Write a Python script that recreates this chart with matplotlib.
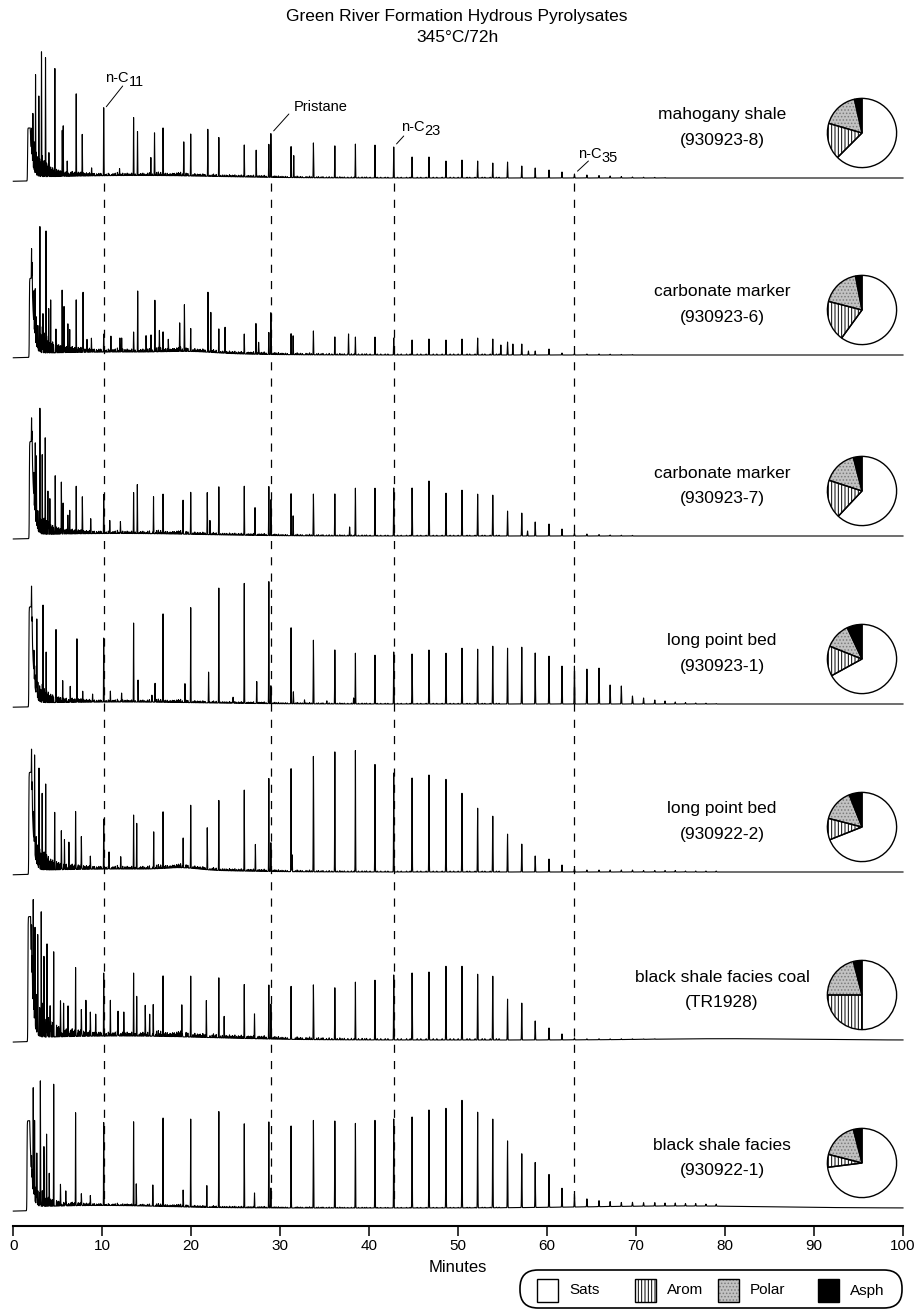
"""Green River Formation hydrous pyrolysates: stacked GC traces with bulk-composition pies."""
import matplotlib

matplotlib.use("Agg")
import matplotlib.pyplot as plt
import numpy as np
from matplotlib.patches import FancyBboxPatch, Rectangle

plt.rcParams["font.family"] = ["Liberation Sans", "DejaVu Sans"]
plt.rcParams["hatch.linewidth"] = 0.7

W, H = 914, 1309
X0, X1 = 13.3, 903.0  # pixel columns of 0 and 100 min

# retention times of n-C11 ... n-C48 (min)
ALKANE_T = np.array([10.16, 13.52, 16.83, 19.94, 23.10, 25.96, 28.72, 31.22, 33.73, 36.14,
                     38.45, 40.65, 42.76, 44.82, 46.72, 48.63, 50.43, 52.19, 53.89, 55.55,
                     57.15, 58.66, 60.21, 61.67, 63.07, 64.47, 65.83, 67.08, 68.34, 69.59,
                     70.84, 72.10, 73.25, 74.40, 75.55, 76.70, 77.85, 79.00])
PRISTANE_T = 28.95
MARKER_T = [ALKANE_T[0], PRISTANE_T, ALKANE_T[12], ALKANE_T[24]]

SAMPLES = ["mahogany shale", "carbonate marker", "carbonate marker", "long point bed",
           "long point bed", "black shale facies coal", "black shale facies"]
SAMPLE_IDS = ["(930923-8)", "(930923-6)", "(930923-7)", "(930923-1)",
              "(930922-2)", "(TR1928)", "(930922-1)"]

# n-alkane peak heights (px above baseline), n-C11 .. n-C48
ALK_1 = [68, 58, 48, 42, 39, 32, 33, 31, 35, 32, 34, 33, 31, 21, 21, 17, 18, 17, 15, 16,
         12, 10, 8, 6, 4, 3, 2.5, 2, 1.5, 1, 0.8, 0.6, 0.5, 0, 0, 0, 0, 0]
ALK_2 = [18, 20, 20, 23, 24, 20, 22, 21, 24, 18, 18, 18, 17, 15, 16, 15, 16, 17, 16, 13,
         11, 4, 6, 2, 1.5, 1, 1, 0.8, 0.6, 0.5, 0, 0, 0, 0, 0, 0, 0, 0]
ALK_3 = [39, 41, 40, 42, 48, 49, 49, 42, 42, 42, 48, 48, 48, 48, 55, 43, 46, 42, 41, 25,
         23, 14, 12, 7, 3, 2, 1.5, 1, 0.8, 0.6, 0, 0, 0, 0, 0, 0, 0, 0]
ALK_4 = [64, 79, 89, 95, 115, 120, 122, 76, 64, 54, 51, 49, 52, 50, 54, 51, 56, 55, 58, 56,
         57, 51, 48, 38, 38, 35, 36, 19, 18, 8, 6, 4, 3, 2, 1.5, 1, 0.8, 0.5]
ALK_5 = [50, 54, 57, 63, 70, 81, 93, 103, 116, 120, 122, 108, 99, 94, 97, 93, 79, 64, 56, 38,
         28, 16, 13, 7, 3, 2, 2, 2, 2, 2, 1.5, 1.5, 1.5, 1.5, 1, 1, 1, 1]
ALK_6 = [63, 63, 61, 61, 60, 54, 54, 53, 55, 52, 58, 60, 65, 67, 68, 74, 74, 66, 64, 41,
         37, 19, 12, 6, 2, 1, 1, 0.8, 0.8, 0.6, 0.5, 0.5, 0, 0, 0, 0, 0, 0]
ALK_7 = [83, 84, 89, 88, 96, 84, 86, 82, 88, 87, 85, 88, 89, 91, 98, 100, 108, 96, 89, 67,
         54, 45, 33, 19, 13, 8, 6, 5, 4, 4, 3.5, 3.5, 3, 3, 2.5, 2.5, 2, 2]

# other resolved peaks (min, px)
MINOR_1 = [(2.2, 51), (2.5, 99), (2.87, 81), (3.17, 126), (3.62, 119), (4.0, 24), (4.67, 109),
           (5.5, 46), (5.61, 51), (6.06, 14), (7.07, 83), (7.75, 42), (8.8, 8), (11.94, 7),
           (13.96, 44), (15.46, 18), (15.87, 43), (19.16, 34), (21.86, 47), (27.3, 27),
           (28.95, 44), (31.52, 22)]
MINOR_2 = [(2.47, 51), (2.99, 123), (3.33, 37), (3.68, 122), (3.98, 44), (4.2, 41), (4.79, 24),
           (5.49, 63), (5.7, 46), (6.13, 29), (6.34, 21), (7.07, 53), (7.84, 60), (8.28, 12),
           (8.78, 14), (10.97, 16), (11.98, 14), (12.18, 14), (13.98, 61), (14.92, 16),
           (15.48, 17), (15.91, 52), (16.42, 21), (17.42, 12), (18.7, 27), (19.23, 47),
           (21.88, 60), (22.2, 40), (23.8, 26), (27.27, 31), (27.57, 12), (28.95, 42),
           (31.45, 19), (37.68, 21), (54.8, 10), (56.15, 11), (57.9, 4)]
MINOR_3 = [(2.47, 75), (2.6, 59), (2.99, 123), (3.25, 62), (3.59, 97), (3.89, 42), (4.11, 29),
           (4.71, 59), (5.4, 52), (5.6, 31), (6.13, 19), (6.34, 22), (7.07, 48), (7.76, 37),
           (8.7, 13), (10.84, 13), (12.04, 12), (13.94, 49), (15.76, 37), (19.08, 34),
           (21.8, 42), (22.1, 13), (27.17, 28), (28.95, 36), (31.45, 20), (37.8, 9), (57.8, 5)]
MINOR_4 = [(2.64, 77), (3.34, 93), (3.69, 51), (4.8, 73), (5.55, 22), (6.4, 16), (7.15, 64),
           (7.8, 11), (8.91, 8), (10.91, 11), (12.17, 9), (14.02, 22), (15.58, 7), (15.93, 19),
           (19.29, 19), (21.95, 31), (24.7, 6), (27.36, 22), (28.95, 18), (31.48, 12),
           (32.73, 4), (35.24, 3), (38.25, 6)]
MINOR_5 = [(2.39, 77), (2.89, 101), (3.24, 66), (3.64, 86), (4.65, 58), (5.4, 39), (5.75, 30),
           (6.25, 27), (7.0, 58), (7.65, 33), (8.66, 13), (10.76, 17), (12.07, 12), (13.87, 46),
           (15.78, 37), (19.09, 30), (21.8, 42), (27.21, 27), (28.95, 29), (31.33, 17)]
MINOR_6 = [(2.24, 107), (2.44, 97), (2.74, 86), (3.14, 125), (3.44, 69), (3.79, 94), (4.14, 31),
           (4.54, 81), (5.3, 32), (5.65, 27), (6.15, 31), (7.0, 69), (7.65, 27), (8.16, 36),
           (8.66, 24), (9.26, 22), (10.91, 36), (11.77, 25), (12.42, 24), (13.87, 40),
           (14.83, 31), (15.33, 21), (15.73, 32), (18.94, 32), (21.7, 37), (23.7, 19),
           (27.11, 25), (28.95, 35)]
MINOR_7 = [(2.24, 105), (2.39, 67), (2.64, 51), (3.04, 125), (3.44, 55), (3.74, 62), (4.04, 33),
           (4.54, 120), (5.3, 20), (5.9, 15), (7.0, 93), (7.65, 12), (8.66, 10), (13.82, 22),
           (15.68, 21), (19.09, 17), (21.75, 22), (27.11, 15), (28.95, 20)]

# solvent front: start (min), plateau height (px)
SOLVENT = [(1.6, 49), (1.8, 75), (1.8, 93), (1.75, 96), (1.74, 98), (1.64, 121), (1.54, 86)]
# unresolved humps: centre (min), width (min), height (px)
HUMPS = [[(14, 9, 2.5)], [(12, 9, 3), (20, 2.5, 1.5)], [(12, 9, 2.5)], [(12, 9, 2)],
         [(12, 9, 3), (19, 1.8, 2)], [(12, 10, 4), (80, 8, 1.3)], [(10, 7, 2.5), (75, 10, 2)]]
GRASS_SCALE = [0.8, 1.0, 0.8, 0.7, 0.9, 1.3, 0.6]
# small unresolved peaks common to all traces (min, px)
GRASS = [(2.05, 30), (2.12, 22), (2.32, 35), (2.40, 25), (2.58, 28), (2.68, 20), (2.76, 24),
         (2.96, 22), (3.08, 18), (3.26, 26), (3.36, 16), (3.46, 20), (3.55, 14), (3.74, 17),
         (3.86, 12), (3.94, 15), (4.10, 10), (4.20, 12), (4.30, 9), (4.42, 11), (4.52, 8),
         (4.86, 9), (4.98, 7), (5.10, 8), (5.22, 6), (5.32, 7), (5.66, 6), (5.84, 5), (5.96, 6),
         (6.22, 4), (6.48, 5), (6.62, 6), (6.80, 4), (6.92, 5), (7.30, 5), (7.45, 4), (7.60, 5),
         (7.90, 4), (8.05, 3), (8.22, 4), (8.40, 3), (8.56, 4), (8.95, 3), (9.12, 3), (9.36, 2.5),
         (9.62, 3), (9.82, 3), (10.45, 2), (10.68, 3), (11.20, 2.5), (11.46, 3), (11.70, 4),
         (12.30, 3), (12.55, 2.5), (12.80, 3), (13.10, 2), (13.30, 3), (14.30, 2.5), (14.56, 3),
         (14.76, 2), (15.10, 3), (15.30, 3.5), (16.10, 4), (16.30, 4.5), (16.56, 4), (17.10, 3),
         (17.30, 3), (17.62, 2.5), (17.90, 3), (18.10, 3), (18.36, 3.5), (18.56, 4), (18.80, 4.5),
         (19.42, 3.5), (19.62, 3), (20.40, 3), (20.70, 2.5), (21.00, 2.5), (21.30, 3), (21.56, 2),
         (22.50, 3), (22.80, 2.5), (23.50, 2), (23.92, 2), (24.30, 2.5), (24.62, 2), (24.90, 2.5),
         (25.30, 2), (25.62, 2.5), (26.40, 2), (26.70, 2), (27.00, 2.5), (27.62, 2), (27.90, 2),
         (28.20, 2.5), (29.40, 2), (29.80, 2), (30.20, 1.5), (30.60, 1.5), (31.90, 2), (32.30, 1.5),
         (32.90, 1.5), (33.30, 2), (34.30, 1.5), (34.80, 1.5), (35.50, 1.5), (36.70, 1.5),
         (37.20, 1.2), (38.00, 1.2), (39.20, 1.2), (39.70, 1.2), (41.30, 1), (42.10, 1),
         (43.60, 1), (44.20, 1), (45.80, 1), (47.60, 1), (49.50, 1), (51.30, 1), (53.00, 1),
         (54.60, 1),
         (5.45, 3), (5.78, 2.5), (6.05, 2), (6.35, 2.5), (6.72, 2), (7.22, 2.5), (7.38, 2),
         (7.70, 2), (8.30, 2), (8.70, 2.5), (9.00, 2), (9.50, 1.5), (9.90, 2), (10.35, 1.5),
         (10.80, 2), (11.05, 1.5), (11.35, 2), (11.85, 1.5), (12.10, 2), (12.65, 1.5), (12.95, 2),
         (13.20, 1.5), (13.70, 2), (14.15, 1.5), (14.45, 2), (14.95, 1.5), (15.65, 2), (16.00, 1.5),
         (16.45, 2), (16.70, 1.5), (17.00, 2), (17.45, 1.5), (17.75, 2), (18.00, 2.5), (18.25, 2),
         (18.45, 2.5), (18.68, 3), (19.00, 2.5), (19.55, 2), (20.20, 2), (20.55, 1.5), (20.85, 2),
         (21.15, 1.5), (21.45, 2), (22.10, 1.5), (22.35, 2), (22.65, 1.5), (23.30, 1.5), (23.70, 2),
         (24.10, 1.5), (24.45, 1.5), (24.75, 1.5), (25.10, 1.5), (25.45, 1.5), (25.80, 1.5),
         (26.25, 1.5), (26.55, 1.5), (26.85, 1.5), (27.45, 1.5), (27.75, 1.5), (28.05, 1.5),
         (28.40, 1.5), (29.20, 1.5), (29.60, 1.5), (30.00, 1.2), (30.40, 1.2), (30.80, 1.2),
         (31.70, 1.2), (32.10, 1.2), (32.50, 1.2), (33.10, 1.2), (33.50, 1.2), (34.10, 1.2),
         (34.60, 1.2), (35.20, 1), (35.80, 1), (36.40, 1), (36.95, 1), (37.60, 1), (38.30, 1),
         (38.80, 1), (39.50, 1), (40.10, 1), (40.90, 1), (41.80, 1), (43.20, 1), (44.60, 1),
         (45.40, 1), (46.40, 1), (47.20, 1), (48.20, 1), (49.10, 1), (50.00, 1), (51.00, 1),
         (51.90, 1), (52.70, 1), (53.60, 1), (54.30, 1)]

# bulk composition (%)
SATS = [62.5, 60, 62, 67, 69, 50, 73]
AROM = [17, 19, 18, 14, 10, 25, 6]
POLAR = [17, 18, 16, 12, 15, 21, 17]
ASPH = [3.5, 3, 4, 7, 6, 4, 4]

ALKS = [ALK_1, ALK_2, ALK_3, ALK_4, ALK_5, ALK_6, ALK_7]
MINORS = [MINOR_1, MINOR_2, MINOR_3, MINOR_4, MINOR_5, MINOR_6, MINOR_7]

BASELINES = [178, 355, 536, 704, 872, 1040, 1208]  # px from top
T = np.linspace(0, 100, 25001)
GT, GH = np.array(GRASS).T


def trace(alk, minor, solvent, humps, gscale):
    t0, hs = solvent
    rise = 1.0 / (1.0 + np.exp(-(T - t0) / 0.012))
    y = -4 * (1 - rise) + hs * rise * np.exp(-np.clip(T - t0 - 0.3, 0, None) / 0.22)
    mt, mh = np.array(minor, dtype=float).T
    pt = np.concatenate([ALKANE_T, mt, GT])
    ph = np.concatenate([np.asarray(alk, float), mh, GH * gscale])
    sig = 0.014 + 0.00018 * pt
    for c, h, s in zip(pt, ph, sig):
        lo, hi = np.searchsorted(T, [c - 8 * s, c + 8 * s])
        y[lo:hi] += h * np.exp(-0.5 * ((T[lo:hi] - c) / s) ** 2)
    for c, s, h in humps:
        y += h * np.exp(-0.5 * ((T - c) / s) ** 2)
    return y


fig = plt.figure(figsize=(W / 100, H / 100), dpi=100)


def px_axes(x0, y_top, x1, y_bot, **kw):
    return fig.add_axes([x0 / W, 1 - y_bot / H, (x1 - x0) / W, (y_bot - y_top) / H], **kw)


# dashed reference lines through the marker compounds
over = px_axes(X0, 0, X1, H, zorder=0)
over.set_xlim(0, 100)
over.set_ylim(H, 0)
over.axis("off")
over.vlines(MARKER_T, 183, 1205, colors="black", lw=0.9, linestyles=(0, (6.5, 6.5)))

axes = []
for i, yb in enumerate(BASELINES):
    ax = px_axes(X0, yb - 150, X1, yb + 8, zorder=1)
    ax.patch.set_visible(False)
    ax.set_xlim(0, 100)
    ax.set_ylim(-8, 150)
    ax.axis("off")
    y = trace(ALKS[i], MINORS[i], SOLVENT[i], HUMPS[i], GRASS_SCALE[i])
    ax.plot(T, y, color="black", lw=0.8, clip_on=False)
    axes.append(ax)

    fig.text(722 / W, 1 - (yb - 63) / H, SAMPLES[i], ha="center", va="center", fontsize=12.5)
    fig.text(722 / W, 1 - (yb - 38) / H, SAMPLE_IDS[i], ha="center", va="center", fontsize=12.5)

    cy = yb - 45
    pax = px_axes(862 - 36, cy - 36, 862 + 36, cy + 36)
    fr = [ASPH[i], POLAR[i], AROM[i], SATS[i]]
    wedges, _ = pax.pie(fr, colors=["black", "#c2c2c2", "white", "white"], startangle=90,
                        counterclock=True, wedgeprops=dict(linewidth=0))
    wedges[1].set_hatch(".....")
    wedges[1].set_edgecolor("#7c7c7c")
    wedges[2].set_hatch("|||||")
    wedges[2].set_edgecolor("black")
    pax.pie(fr, startangle=90, counterclock=True,
            wedgeprops=dict(fill=False, edgecolor="black", linewidth=1.0))
    pax.set_xlim(-1.04, 1.04)
    pax.set_ylim(-1.04, 1.04)
    pax.set_aspect("equal")

# peak labels on the top trace
top = axes[0]
LABELS = [("n-C", "11", ALKANE_T[0], ALK_1[0], (19, 24), (25, 32)),
          ("Pristane", "", PRISTANE_T, 44, (18, 20), (50, 27)),
          ("n-C", "23", ALKANE_T[12], ALK_1[12], (10, 11), (31, 20)),
          ("n-C", "35", ALKANE_T[24], ALK_1[24], (14, 13), (27, 20))]
for main, sub, t, h, lead, txt in LABELS:
    top.annotate("", xy=(t, h), xytext=(lead[0] * 0.72, lead[1] * 0.72), textcoords="offset points",
                 arrowprops=dict(arrowstyle="-", lw=0.7, color="black", shrinkA=0, shrinkB=3))
    if sub:
        top.annotate(main, xy=(t, h), xytext=(txt[0] * 0.72, txt[1] * 0.72), textcoords="offset points",
                     ha="right", va="center", fontsize=10.5)
        top.annotate(sub, xy=(t, h), xytext=(txt[0] * 0.72, (txt[1] - 4) * 0.72), textcoords="offset points",
                     ha="left", va="center", fontsize=10.5)
    else:
        top.annotate(main, xy=(t, h), xytext=(txt[0] * 0.72, txt[1] * 0.72), textcoords="offset points",
                     ha="center", va="center", fontsize=10.5)

# time axis
tax = px_axes(X0, 1224, X1, 1226)
tax.set_xlim(0, 100)
tax.set_xticks(np.arange(0, 101, 10))
tax.set_yticks([])
for side in ("top", "left", "right"):
    tax.spines[side].set_visible(False)
tax.spines["bottom"].set_linewidth(1.5)
tax.tick_params(axis="x", direction="out", length=7, width=1.1, labelsize=11, pad=2.5)
tax.patch.set_visible(False)
fig.text(458 / W, 1 - 1268 / H, "Minutes", ha="center", va="center", fontsize=12)

fig.text(0.5, 1 - 17 / H, "Green River Formation Hydrous Pyrolysates", ha="center", va="center", fontsize=12.5)
fig.text(0.5, 1 - 37 / H, "345\u00b0C/72h", ha="center", va="center", fontsize=12.5)

# legend for the pie fills
lax = px_axes(505, 1262, 912, H)
lax.set_xlim(505, 912)
lax.set_ylim(H, 1262)
lax.axis("off")
lax.add_patch(FancyBboxPatch((520, 1270), 382, 38, boxstyle="round,pad=0,rounding_size=18",
                             facecolor="white", edgecolor="black", lw=1.2, clip_on=False))
LEG = [("Sats", "white", "", "black", 537), ("Arom", "white", "|||||", "black", 635),
       ("Polar", "#c2c2c2", ".....", "#7c7c7c", 718), ("Asph", "black", "", "black", 818)]
for name, fc, hatch, ec, x in LEG:
    lax.add_patch(Rectangle((x, 1279), 21, 23, facecolor=fc, hatch=hatch, edgecolor=ec, lw=0, clip_on=False))
    lax.add_patch(Rectangle((x, 1279), 21, 23, fill=False, edgecolor="black", lw=1.0, clip_on=False))
    lax.text(x + 32, 1290.5, name, ha="left", va="center", fontsize=11)

fig.savefig("out.png", dpi=100)
